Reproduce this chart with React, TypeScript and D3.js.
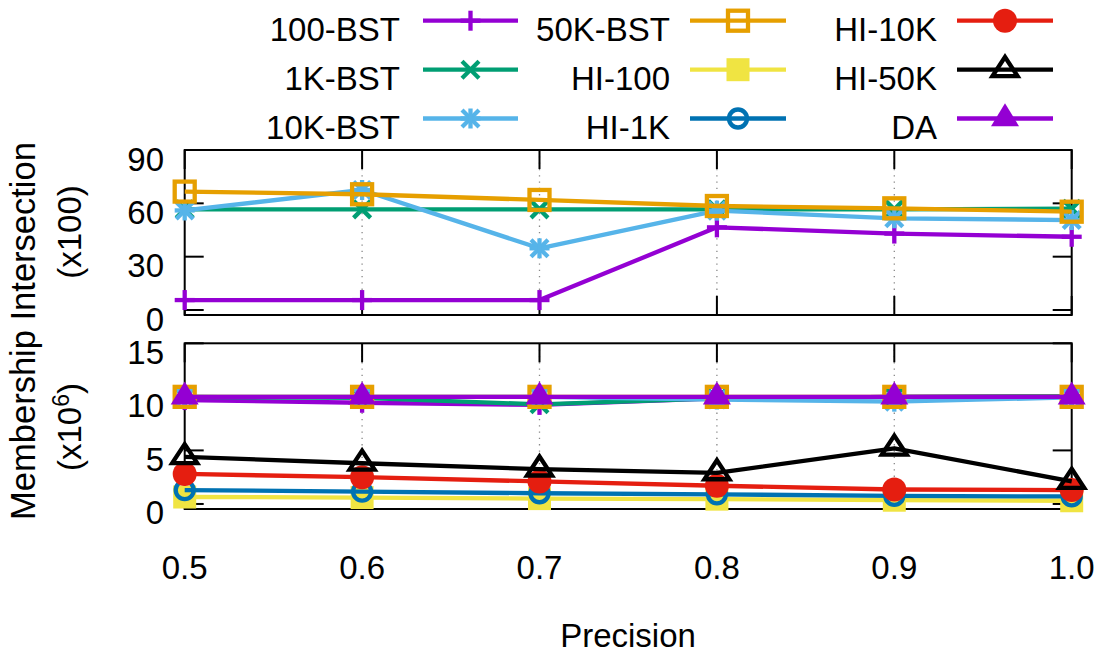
import React from "react";
import * as d3 from "d3";

const precision = [0.5, 0.6, 0.7, 0.8, 0.9, 1.0];
const xTicks = [0.5, 0.6, 0.7, 0.8, 0.9, 1.0];
const xTickLabels = ["0.5", "0.6", "0.7", "0.8", "0.9", "1.0"];
const topTicks = [0, 30, 60, 90];
const bottomTicks = [0, 5, 10, 15];

// Intersection (x100)
const bst100I = [5.6, 5.6, 5.6, 46.5, 43, 41.2];
const bst1kI = [56.6, 56.6, 56.6, 56.6, 56.6, 57];
const bst10kI = [56, 67.5, 34.7, 55.9, 51.6, 50.6];
const bst50kI = [66.6, 65.1, 61.9, 58.5, 57.2, 55.3];

// Membership (x10^6)
const bst100M = [9.7, 9.45, 9.25, 9.85, 10.0, 10.05];
const bst1kM = [10.0, 9.9, 9.3, 9.85, 10.0, 10.05];
const bst10kM = [10.0, 10.0, 10.0, 9.75, 9.55, 9.95];
const bst50kM = [10.0, 10.0, 10.0, 10.0, 10.0, 10.0];
const hi100M = [0.65, 0.6, 0.5, 0.45, 0.35, 0.3];
const hi1kM = [1.3, 1.15, 1.0, 0.9, 0.75, 0.7];
const hi10kM = [2.8, 2.5, 2.1, 1.7, 1.35, 1.3];
const hi50kM = [4.4, 3.8, 3.25, 2.9, 5.2, 2.1];
const daM = [10.0, 10.0, 10.0, 10.0, 10.0, 10.0];

type Sty = { name: string; color: string; marker: string };
const styles: Sty[] = [
  { name: "100-BST", color: "#9400D3", marker: "plus" },
  { name: "1K-BST", color: "#009E73", marker: "cross" },
  { name: "10K-BST", color: "#56B4E9", marker: "star" },
  { name: "50K-BST", color: "#E69F00", marker: "openSquare" },
  { name: "HI-100", color: "#F0E442", marker: "filledSquare" },
  { name: "HI-1K", color: "#0072B2", marker: "openCircle" },
  { name: "HI-10K", color: "#E51E10", marker: "filledCircle" },
  { name: "HI-50K", color: "#000000", marker: "openTriangle" },
  { name: "DA", color: "#9400D3", marker: "filledTriangle" },
];

const topSeries = [bst100I, bst1kI, bst10kI, bst50kI];
const bottomSeries = [bst100M, bst1kM, bst10kM, bst50kM, hi100M, hi1kM, hi10kM, hi50kM, daM];

const FONT = "'Liberation Sans', Arial, Helvetica, sans-serif";
const FS = 33;
const LW = 4.3;

function Marker({ type, x, y, color }: { type: string; x: number; y: number; color: string }) {
  const s = 10;
  switch (type) {
    case "plus":
      return (
        <g stroke={color} strokeWidth={LW}>
          <line x1={x - s} y1={y} x2={x + s} y2={y} />
          <line x1={x} y1={y - s} x2={x} y2={y + s} />
        </g>
      );
    case "cross": {
      const d = 8.5;
      return (
        <g stroke={color} strokeWidth={LW}>
          <line x1={x - d} y1={y - d} x2={x + d} y2={y + d} />
          <line x1={x - d} y1={y + d} x2={x + d} y2={y - d} />
        </g>
      );
    }
    case "star": {
      const d = 8.5;
      return (
        <g stroke={color} strokeWidth={LW}>
          <line x1={x - d} y1={y - d} x2={x + d} y2={y + d} />
          <line x1={x - d} y1={y + d} x2={x + d} y2={y - d} />
          <line x1={x - s} y1={y} x2={x + s} y2={y} />
          <line x1={x} y1={y - s} x2={x} y2={y + s} />
        </g>
      );
    }
    case "openSquare":
      return <rect x={x - 10} y={y - 10} width={20} height={20} fill="none" stroke={color} strokeWidth={LW} />;
    case "filledSquare":
      return <rect x={x - 11.5} y={y - 11.5} width={23} height={23} fill={color} />;
    case "openCircle":
      return <circle cx={x} cy={y} r={9} fill="none" stroke={color} strokeWidth={LW} />;
    case "filledCircle":
      return <circle cx={x} cy={y} r={12} fill={color} />;
    case "openTriangle": {
      const w = 12.5, h = 19;
      return (
        <polygon
          points={`${x},${y - (h * 2) / 3} ${x + w},${y + h / 3} ${x - w},${y + h / 3}`}
          fill="none"
          stroke={color}
          strokeWidth={LW}
          strokeLinejoin="miter"
        />
      );
    }
    case "filledTriangle": {
      const w = 14, h = 23;
      return (
        <polygon
          points={`${x},${y - (h * 2) / 3} ${x + w},${y + h / 3} ${x - w},${y + h / 3}`}
          fill={color}
        />
      );
    }
  }
  return null;
}

export default function App() {
  const W = 1099, H = 654;
  const x = d3.scaleLinear().domain([0.5, 1.0]).range([184.7, 1071.7]);
  const yTop = d3.scaleLinear().domain([-2.8, 90]).range([315, 150]);
  const yBot = d3.scaleLinear().domain([-0.47, 15]).range([509, 343.3]);

  const panels = [
    { y: yTop, ticks: topTicks, series: topSeries, idx: [0, 1, 2, 3] },
    { y: yBot, ticks: bottomTicks, series: bottomSeries, idx: [0, 1, 2, 3, 4, 5, 6, 7, 8] },
  ];
  const xl = 184.7, xr = 1071.7;
  const TL = 19;

  const legendCols = [
    { tx: 400, x1: 423, x2: 518 },
    { tx: 670, x1: 690, x2: 786 },
    { tx: 937, x1: 957, x2: 1053 },
  ];
  const legendRows = [20.7, 69.7, 118.5];

  return (
    <div style={{ position: "absolute", left: 0, top: 0 }}>
      <svg width={W} height={H} style={{ display: "block", background: "#fff" }} fontFamily={FONT}>
        <rect x={0} y={0} width={W} height={H} fill="#fff" />
        {panels.map((p, pi) => {
          const [yb, yt] = p.y.range();
          const line = d3
            .line<number>()
            .x((_, i) => x(precision[i]))
            .y((d) => p.y(d));
          return (
            <g key={pi}>
              {xTicks.slice(1, -1).map((t) => (
                <line
                  key={"g" + t}
                  x1={x(t)}
                  x2={x(t)}
                  y1={yt}
                  y2={yb}
                  stroke="#888"
                  strokeWidth={1.3}
                  strokeDasharray="1.3,5"
                />
              ))}
              {xTicks.map((t) => (
                <g key={"xt" + t} stroke="#000" strokeWidth={2}>
                  <line x1={x(t)} x2={x(t)} y1={yt} y2={yt + TL} />
                  <line x1={x(t)} x2={x(t)} y1={yb} y2={yb - TL} />
                </g>
              ))}
              {p.ticks.map((t) => (
                <g key={"yt" + t}>
                  <line x1={xl} x2={xl + TL} y1={p.y(t)} y2={p.y(t)} stroke="#000" strokeWidth={2} />
                  <line x1={xr} x2={xr - TL} y1={p.y(t)} y2={p.y(t)} stroke="#000" strokeWidth={2} />
                  <text x={164} y={p.y(t) + 20.5} fontSize={FS} textAnchor="end" fill="#000">
                    {t}
                  </text>
                </g>
              ))}
              <rect x={xl} y={yt} width={xr - xl} height={yb - yt} fill="none" stroke="#000" strokeWidth={2} />
              {p.series.map((vals, si) => {
                const st = styles[p.idx[si]];
                return (
                  <g key={"s" + si}>
                    <path d={line(vals) || ""} fill="none" stroke={st.color} strokeWidth={LW} strokeLinejoin="round" />
                    {vals.map((v, i) => (
                      <Marker key={i} type={st.marker} x={x(precision[i])} y={p.y(v)} color={st.color} />
                    ))}
                  </g>
                );
              })}
            </g>
          );
        })}

        {xTicks.map((t, i) => (
          <text key={"xl" + t} x={x(t)} y={579} fontSize={FS} textAnchor="middle" fill="#000">
            {xTickLabels[i]}
          </text>
        ))}
        <text x={628} y={647} fontSize={FS} textAnchor="middle" fill="#000">
          Precision
        </text>

        <text transform="translate(35,331) rotate(-90)" fontSize={34.5} textAnchor="middle" fill="#000">
          Membership Intersection
        </text>
        <text transform="translate(81,232) rotate(-90)" fontSize={FS} textAnchor="middle" fill="#000">
          (x100)
        </text>
        <text transform="translate(81,427) rotate(-90)" fontSize={FS} textAnchor="middle" fill="#000">
          (x10
          <tspan fontSize={23} dy={-12}>
            6
          </tspan>
          <tspan dy={12}>)</tspan>
        </text>

        {styles.map((st, i) => {
          const c = legendCols[Math.floor(i / 3)];
          const ry = legendRows[i % 3];
          return (
            <g key={"lg" + i}>
              <text x={c.tx} y={ry + 20} fontSize={FS} textAnchor="end" fill="#000">
                {st.name}
              </text>
              <line x1={c.x1} x2={c.x2} y1={ry} y2={ry} stroke={st.color} strokeWidth={LW} />
              <Marker type={st.marker} x={(c.x1 + c.x2) / 2} y={ry} color={st.color} />
            </g>
          );
        })}
      </svg>
    </div>
  );
}
